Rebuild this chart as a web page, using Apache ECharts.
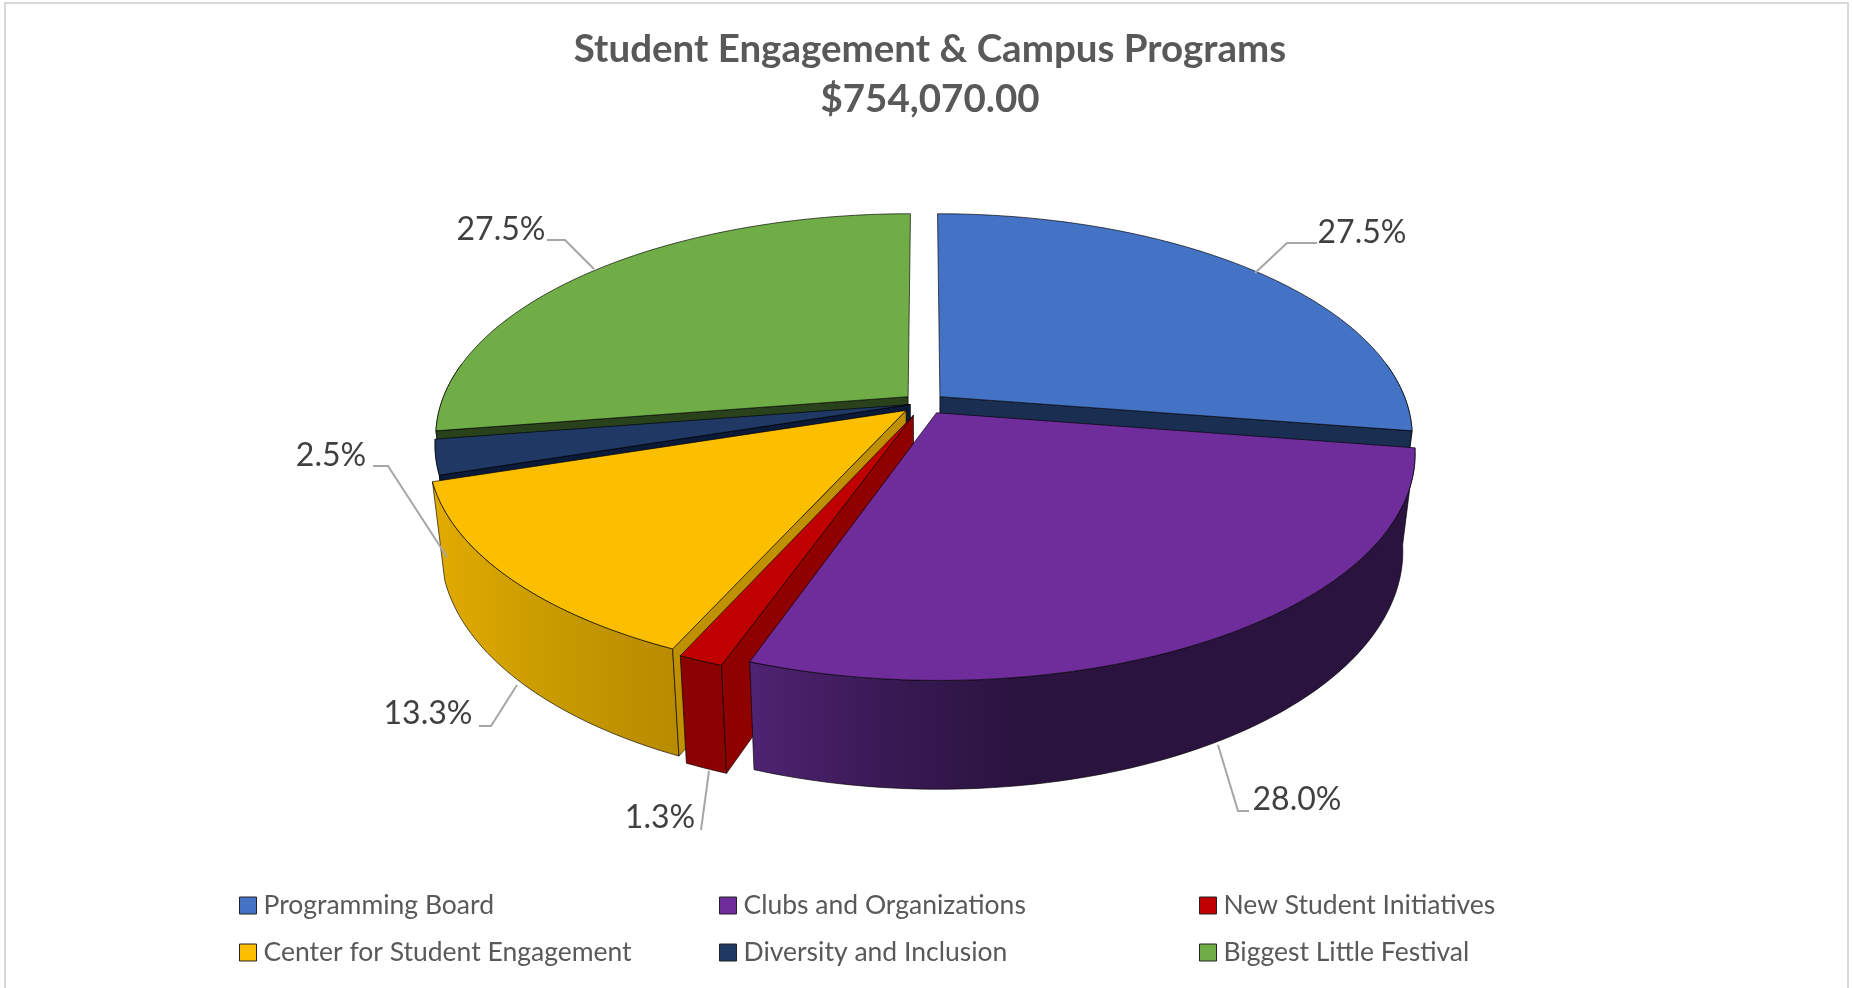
<!DOCTYPE html>
<html lang="en">
<head>
<meta charset="UTF-8">
<title>Student Engagement & Campus Programs</title>
<style>
  html, body { margin: 0; padding: 0; background: #fff; }
  #main { width: 1852px; height: 988px; }
</style>
</head>
<body>
<div id="main"></div>
<script src="https://cdn.jsdelivr.net/npm/echarts@6/dist/echarts.min.js"></script>
<script>
// data, clockwise from 12 o'clock
var titleLines = ['Student Engagement & Campus Programs', '$754,070.00'];
var categories = ['Programming Board', 'Clubs and Organizations', 'New Student Initiatives',
                  'Center for Student Engagement', 'Diversity and Inclusion', 'Biggest Little Festival'];
var shares = [27.5, 28.0, 1.3, 13.3, 2.5, 27.5];

// colours per slice: top face, cut face, outer wall gradient
var topColors = ['#4472c4', '#6e2d9b', '#c00000', '#fbbf00', '#1f3864', '#70ad47'];
var cutColors = ['#1a2e52', '#2b1340', '#8f0000', '#bf9000', '#0b1a38', '#2a421c'];
var wallStops = [
  ['#1a2e52', '#1a2e52'],
  ['#4f2372', '#3a1a55', '#2b1340', '#2b1340', '#2b1340', '#2b1340'],
  ['#8b0000', '#8b0000'],
  ['#e2ab00', '#c89a00', '#b88a00'],
  ['#1a2e52', '#1a2e52'],
  ['#2a421c', '#2a421c']
];
// back to front, so nearer slices cover the cut faces behind them
var paintOrder = [0, 5, 4, 3, 2, 1];

// pie projection (simple perspective, tuned by eye against the picture)
var cx = 924, cy = 403, radX = 467, radY = 217;
var persp = 0.175, depth = 97, bottomScale = 0.975;
var explodeBy = [0.045, 0.052, 0.06, 0.051, 0.03, 0.045];

// leader line points and label centres, one per slice
var leaders = [
  [[1317, 243], [1287, 243], [1255, 273]],
  [[1249, 811], [1238, 811], [1218, 745]],
  [[701, 830], [709, 771]],
  [[479, 726], [491, 726], [517, 685]],
  [[373, 466], [388, 466], [447, 557]],
  [[547, 240], [565, 240], [594, 269]]
];
var labelSpots = [[1362, 233], [1297, 800], [660, 818], [428, 714], [331, 456], [501, 230]];
var legendSpots = [[239, 906], [719, 906], [1199, 906], [239, 953], [719, 953], [1199, 953]];

var total = shares.reduce(function (a, b) { return a + b; }, 0);

function sliceAngles(i) {
  var before = 0;
  for (var k = 0; k < i; k++) before += shares[k];
  return [before / total * Math.PI * 2, (before + shares[i]) / total * Math.PI * 2];
}

// r = 1 on the rim, r = 0 at the apex; low = point on the underside
function project(i, angle, r, low) {
  var a = sliceAngles(i);
  var mid = (a[0] + a[1]) / 2;
  var u = r * Math.sin(angle) + explodeBy[i] * Math.sin(mid);
  var v = -r * Math.cos(angle) - explodeBy[i] * Math.cos(mid);
  var s = 1 / (1 - persp * v);
  var f = low ? bottomScale : 1;
  return [cx + radX * u * s * f, cy + (radY * v + (low ? depth : 0)) * s * f];
}

function arcAngles(from, to) {
  var list = [];
  var n = Math.max(2, Math.ceil((to - from) / 0.02));
  for (var k = 0; k <= n; k++) list.push(from + (to - from) * k / n);
  return list;
}

var edge = { stroke: 'rgba(0,0,0,0.65)', lineWidth: 1 };

function face(points, fill) {
  return { type: 'polygon', shape: { points: points },
           style: { fill: fill, stroke: edge.stroke, lineWidth: edge.lineWidth } };
}

function renderSlice(i) {
  return function () {
    var a = sliceAngles(i);
    var kids = [];

    // outer wall, front half only
    var from = Math.max(a[0], Math.PI * 0.45), to = Math.min(a[1], Math.PI * 1.55);
    if (to > from) {
      var rim = arcAngles(from, to);
      var pts = rim.map(function (t) { return project(i, t, 1, false); })
        .concat(rim.slice().reverse().map(function (t) { return project(i, t, 1, true); }));
      var colors = wallStops[i];
      kids.push(face(pts, {
        type: 'linear', x: 0, y: 0, x2: 1, y2: 0,
        colorStops: colors.map(function (c, k) {
          return { offset: k / (colors.length - 1), color: c };
        })
      }));
    }

    // cut faces that look toward the viewer
    [a[0], a[1]].forEach(function (t, k) {
      var facing = k === 0 ? Math.sin(t) < -0.001 : Math.sin(t) > 0.001;
      if (!facing) return;
      kids.push(face([project(i, t, 0, false), project(i, t, 1, false),
                      project(i, t, 1, true), project(i, t, 0, true)], cutColors[i]));
    });

    // top face
    var top = [project(i, a[0], 0, false)].concat(
      arcAngles(a[0], a[1]).map(function (t) { return project(i, t, 1, false); }));
    kids.push(face(top, topColors[i]));

    return { type: 'group', children: kids };
  };
}

function renderLabel(params, api) {
  var i = params.dataIndex;
  return {
    type: 'group',
    children: [
      { type: 'polyline', shape: { points: leaders[i] },
        style: { fill: null, stroke: '#a6a6a6', lineWidth: 2 } },
      { type: 'text', x: labelSpots[i][0], y: labelSpots[i][1],
        style: { text: api.value(0).toFixed(1) + '%', fill: '#404040',
                 font: '32px Lato', align: 'center', verticalAlign: 'middle' } }
    ]
  };
}

var series = categories.map(function (name, i) {
  return {
    type: 'custom', name: name, coordinateSystem: 'none',
    z: 2 + paintOrder.indexOf(i), silent: true,
    itemStyle: { color: topColors[i] },
    data: [shares[i]],
    renderItem: renderSlice(i)
  };
});
series.push({
  type: 'custom', name: 'labels', coordinateSystem: 'none', z: 20, silent: true,
  data: shares, renderItem: renderLabel
});

var chart = echarts.init(document.getElementById('main'));
chart.setOption({
  animation: false,
  backgroundColor: '#fff',
  title: {
    text: titleLines.join('\n'), left: 925, top: 20, textAlign: 'center',
    textStyle: { fontFamily: 'Lato', fontSize: 38.5, fontWeight: 'bold', color: '#595959', lineHeight: 50 }
  },
  legend: categories.map(function (name, i) {
    return {
      data: [name], left: legendSpots[i][0], top: legendSpots[i][1] - 14, padding: 0,
      icon: 'rect', itemWidth: 17, itemHeight: 17, selectedMode: false,
      itemStyle: { borderColor: '#222', borderWidth: 1 },
      textStyle: { fontFamily: 'Lato', fontSize: 26.5, color: '#595959', padding: [0, 0, 0, 2] }
    };
  }),
  series: series,
  graphic: [{
    type: 'rect', z: 30, silent: true,
    shape: { x: 5, y: 3, width: 1843, height: 1000 },
    style: { fill: null, stroke: '#d9d9d9', lineWidth: 2 }
  }]
});
</script>
</body>
</html>
